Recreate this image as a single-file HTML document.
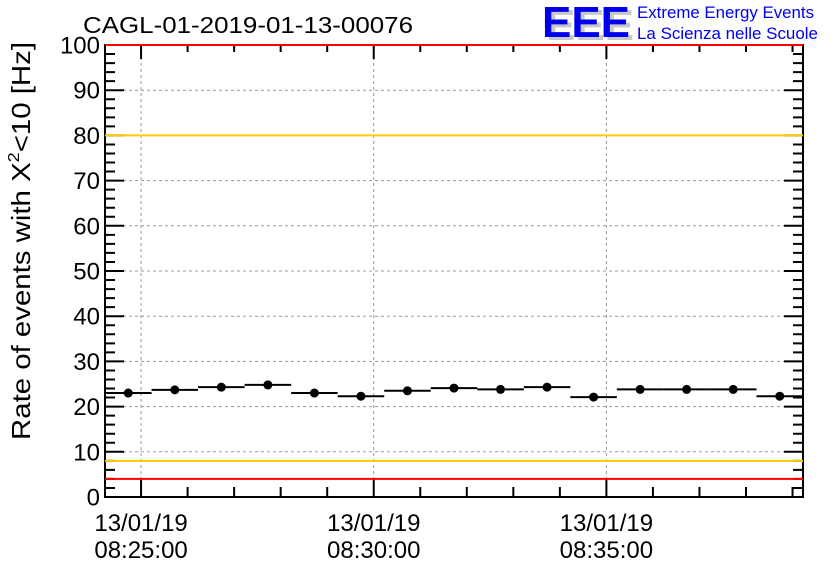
<!DOCTYPE html>
<html><head><meta charset="utf-8"><style>
body{margin:0;background:#fff;}
svg{display:block;font-family:"Liberation Sans",sans-serif;}
</style></head><body>
<svg id="chart" width="836" height="572" viewBox="0 0 836 572">
<text x="83" y="33" font-size="23" textLength="330" lengthAdjust="spacingAndGlyphs">CAGL-01-2019-01-13-00076</text>
<g>
<text x="546" y="40" font-size="44" font-weight="bold" fill="#c8c8c8" textLength="88" lengthAdjust="spacingAndGlyphs">EEE</text>
<text x="542" y="37" font-size="44" font-weight="bold" fill="#0000ee" textLength="88" lengthAdjust="spacingAndGlyphs">EEE</text>
<text x="637" y="18" font-size="16.5" fill="#0000ee" textLength="177" lengthAdjust="spacingAndGlyphs">Extreme Energy Events</text>
<text x="637" y="39" font-size="16.5" fill="#0000ee" textLength="181" lengthAdjust="spacingAndGlyphs">La Scienza nelle Scuole</text>
</g>
<text transform="translate(30,241) rotate(-90)" text-anchor="middle" font-size="26" textLength="398" lengthAdjust="spacingAndGlyphs">Rate of events with X<tspan dy="-11" font-size="16">2</tspan><tspan dy="11">&lt;10 [Hz]</tspan></text>
<g id="grid"></g><g id="axes"></g><g id="marks"></g>
</svg>
<script>
const values=[23.0,23.7,24.3,24.8,23.0,22.3,23.5,24.1,23.8,24.3,22.1,23.8,23.8,23.8,22.3];
const yTicks=[0,10,20,30,40,50,60,70,80,90,100];
const xTickMinutes=[25,30,35];
const xTickDates=["13/01/19","13/01/19","13/01/19"];
const xTickTimes=["08:25:00","08:30:00","08:35:00"];
const startMin=24.225, binMin=1, yMax=100;
const L=105,R=803,T=45,B=497;
const endMin=startMin+values.length*binMin;
const xs=m=>L+(m-startMin)/(endMin-startMin)*(R-L);
const ys=v=>B-v/yMax*(B-T);
const NS="http://www.w3.org/2000/svg";
function mk(tag,attrs,parent){const e=document.createElementNS(NS,tag);for(const k in attrs)e.setAttribute(k,attrs[k]);parent.appendChild(e);return e;}
const grid=document.getElementById('grid'),axes=document.getElementById('axes'),marks=document.getElementById('marks');
yTicks.forEach(v=>{if(v>0&&v<100){const g=mk('line',{x1:L,x2:R,y1:ys(v),y2:ys(v),stroke:'#999','stroke-dasharray':'3,3','stroke-width':1},grid);

}
const t=mk('text',{x:L-5,y:ys(v)+8.5,'text-anchor':'end','font-size':24},axes);t.textContent=v;

});
xTickMinutes.forEach((m,i)=>{const g=mk('line',{x1:xs(m),x2:xs(m),y1:T,y2:B,stroke:'#999','stroke-dasharray':'3,3','stroke-width':1},grid);


const t=mk('text',{x:xs(m),y:531,'text-anchor':'middle','font-size':24},axes);t.textContent=xTickDates[i];


const t2=mk('text',{x:xs(m),y:558,'text-anchor':'middle','font-size':24},axes);t2.textContent=xTickTimes[i];

});
let d='';
for(let v=0;v<=yMax;v+=2){const maj=v%10===0,len=maj?19:10;d+=`M${L},${ys(v)}h${len}M${R},${ys(v)}h${-len}`;}
for(let m=Math.ceil(startMin);m<=endMin;m++){const maj=m%5===0,len=maj?19:10;d+=`M${xs(m)},${B}v${-len}M${xs(m)},${T}v${maj?14:7}`;}
const tk=mk('path',{d:d,stroke:'#000','stroke-width':2,fill:'none'},axes);


const fr=mk('rect',{x:L,y:T,width:R-L,height:B-T,fill:'none',stroke:'#000','stroke-width':2},axes);


const thresholds=[[100,'#ff0000','upper-red-limit'],[80,'#ffcc00','upper-yellow-limit'],[8,'#ffcc00','lower-yellow-limit'],[4,'#ff0000','lower-red-limit']];
thresholds.forEach(([v,c,n])=>{const l=mk('line',{x1:L,x2:R,y1:ys(v),y2:ys(v),stroke:c,'stroke-width':2},marks);

});
values.forEach((v,i)=>{const x0=xs(startMin+i*binMin),x1=xs(startMin+(i+1)*binMin);
const l=mk('line',{x1:x0,x2:x1,y1:ys(v),y2:ys(v),stroke:'#000','stroke-width':2},marks);


const c=mk('circle',{cx:(x0+x1)/2,cy:ys(v),r:4.5,fill:'#000'},marks);

});
</script>
</body></html>
